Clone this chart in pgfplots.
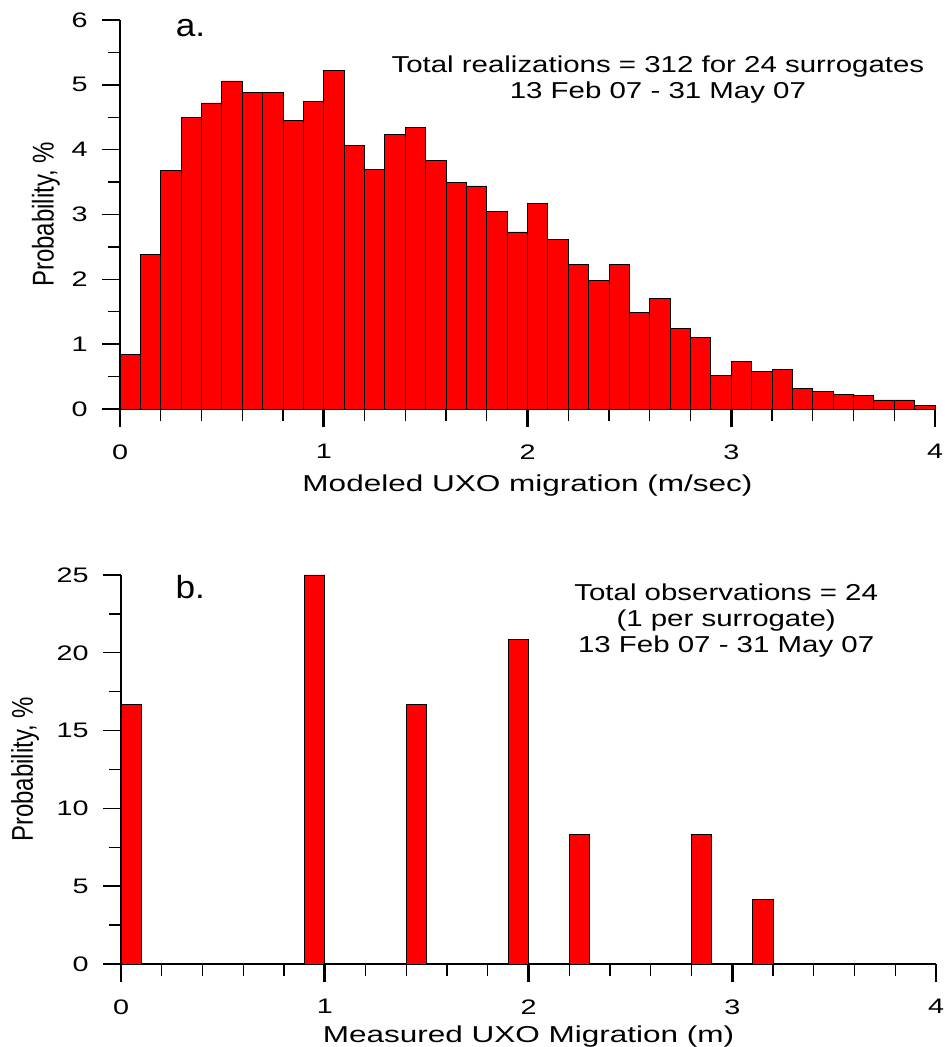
\documentclass[border=0pt]{standalone}
\usepackage{fontspec}
\setmainfont{Liberation Sans}
\usepackage{graphicx}
\usepackage{pgfplots}
\pgfplotsset{compat=1.18}

\pgfplotsset{
  uxo/.style={
    scale only axis,
    width=407.5pt, height=194.5pt,
    anchor=south west,
    clip=false,
    axis x line=bottom, axis y line=left,
    axis line style={-, line width=0.7pt},
    tick align=outside,
    major tick length=9pt, minor tick length=6pt,
    tick style={black, line width=0.7pt},
    major x tick style={line width=1.3pt},
    xmin=0, xmax=4, xtick={0,1,2,3,4}, minor x tick num=4,
    minor y tick num=1,
    /pgf/number format/assume math mode=true,
    ticklabel style={font=\fontsize{10.5}{12}\selectfont, xscale=1.37},
    xticklabel style={inner sep=1pt, yshift=-7.5pt},
    yticklabel style={xshift=-1.75pt},
    xlabel style={font=\fontsize{11.5}{13}\selectfont, xscale=1.37, inner sep=1pt,
                  at={(axis description cs:0.5,0)}, anchor=base},
    ylabel style={font=\fontsize{12}{14}\selectfont, anchor=center},
  },
  hist/.style={ybar, bar width=0.1, bar shift=0pt, fill=red, draw=black, line width=0.4pt},
}
\tikzset{
  note/.style={font=\fontsize{11.5}{13}\selectfont, xscale=1.28, align=center},
  panel/.style={font=\fontsize{16}{18}\selectfont, xscale=1.1, anchor=base west},
}

\begin{document}
\begin{tikzpicture}
\path[use as bounding box] (0,0) rectangle (472.5pt,523.5pt);

% a. modeled migration, bins of 0.1
\begin{axis}[uxo, at={(60pt,319pt)},
    ymin=0, ymax=6, ytick={0,1,...,6},
    xlabel={Modeled UXO migration (m/sec)},
    xlabel style={yshift=-41.5pt},
    ylabel={\scalebox{1}[1.25]{Probability, \%}},
    ylabel style={at={(axis description cs:-0.0908,0.5)}}]
\addplot[hist] coordinates {
 (0.05,0.84) (0.15,2.39) (0.25,3.68) (0.35,4.49) (0.45,4.72)
 (0.55,5.06) (0.65,4.88) (0.75,4.88) (0.85,4.45) (0.95,4.75)
 (1.05,5.22) (1.15,4.07) (1.25,3.69) (1.35,4.23) (1.45,4.34)
 (1.55,3.83) (1.65,3.49) (1.75,3.44) (1.85,3.05) (1.95,2.73)
 (2.05,3.17) (2.15,2.62) (2.25,2.23) (2.35,1.98) (2.45,2.23)
 (2.55,1.49) (2.65,1.70) (2.75,1.24) (2.85,1.10) (2.95,0.52)
 (3.05,0.74) (3.15,0.58) (3.25,0.61) (3.35,0.32) (3.45,0.27)
 (3.55,0.23) (3.65,0.21) (3.75,0.14) (3.85,0.14) (3.95,0.05)
};
\node[panel] at (axis cs:0.236,5.74) {a.};
\node[note] at (axis cs:2.64,5.08) {Total realizations = 312 for 24 surrogates\\13 Feb 07 - 31 May 07};
\end{axis}

% b. measured migration
\begin{axis}[uxo, at={(60.5pt,41.5pt)},
    ymin=0, ymax=25, ytick={0,5,...,25},
    xlabel={Measured UXO Migration (m)},
    xlabel style={yshift=-39pt},
    ylabel={\scalebox{1}[1.25]{Probability, \%}},
    ylabel style={at={(axis description cs:-0.1178,0.5)}}]
\addplot[hist] coordinates {
 (0.05,16.67) (0.95,25.00) (1.45,16.67) (1.95,20.83)
 (2.25,8.33) (2.85,8.33) (3.15,4.17)
};
\node[panel] at (axis cs:0.23,23.5) {b.};
\node[note] at (axis cs:2.97,22.1) {Total observations = 24\\(1 per surrogate)\\13 Feb 07 - 31 May 07};
\end{axis}
\end{tikzpicture}
\end{document}
